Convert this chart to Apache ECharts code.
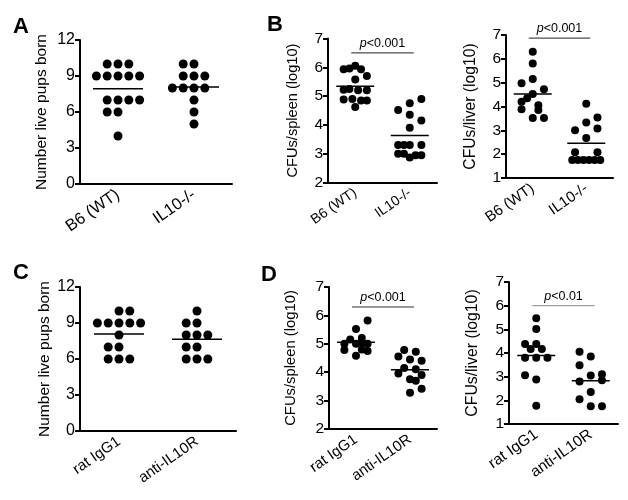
<!DOCTYPE html>
<html><head><meta charset="utf-8">
<script src="https://cdn.jsdelivr.net/npm/echarts@6/dist/echarts.min.js"></script>
<style>html,body{margin:0;padding:0;background:#fff}#c{width:628px;height:500px}</style>
</head><body><div id="c"></div>
<script>
// ---------- data ----------
const catsAB = ['B6 (WT)', 'IL10-/-'];
const catsCD = ['rat IgG1', 'anti-IL10R'];

// Panel A: number of live pups born
const aWT      = [10,10,10, 9,9,9,9,9, 7,7,7,7, 6,6, 4];
const aWTslot  = [-1,0,1, -2,-1,0,1,2, -1,0,1,2, -1,0, 0];
const aKO      = [10,10, 9,9,9, 8,8,8,8, 7, 6, 5];
const aKOslot  = [-1,0, -1,0,1, -2,-1,0,1, 0, 0, 0];

// Panel B: CFUs/spleen (log10)
const bsWT     = [5.93,5.96,6.05,5.93, 5.58,5.70, 5.22,5.25,5.20,5.20, 4.88,4.90,4.85,4.85, 4.62];
const bsWTslot = [-2,-1,0,1, 0,2, -2,-1,0.5,2, -2,-0.5,1,2, 0];
const bsKO     = [4.52,4.75,4.90, 4.35, 4.15, 3.90, 3.30,3.30,3.30,3.30, 3.00,3.00,2.87,2.95,2.95];
const bsKOslot = [-2,0,2, 0, 2, 0, -2,-1,0,2, -2,-1,0,1,2];
// Panel B: CFUs/liver (log10)
const blWT     = [6.30, 5.80, 5.15, 4.98, 4.72, 4.52, 4.20, 3.88, 3.85, 3.52, 3.52, 4.05, 4.35];
const blWTslot = [0, 0, 0, -2, 2, 0, -2, -2, 1, 0, 2, 1, -1];
const blKO     = [4.12, 3.54, 3.33, 3.00, 3.08, 2.68, 2.08, 2.08, 1.76,1.76,1.76,1.76,1.76,1.76];
const blKOslot = [0, 2, 0, -2, 2, 0, -2, 2, -2.5,-1.5,-0.5,0.5,1.5,2.5];

// Panel C: number of live pups born
const cRat     = [10,10, 9,9,9,9,9, 8, 7,7, 6,6,6];
const cRatSlot = [0,1, -2,-1,0,1,2, 0, -1,0, -1,0,1];
const cAnti    = [10, 9,9, 8,8,8, 7,7, 6,6,6];
const cAntiSlot= [0, -1,0, -1,0,1, -1,0, -1,0,1];

// Panel D: CFUs/spleen (log10)
const dsRat     = [5.82, 5.52, 5.15, 5.20, 5.00, 5.00, 5.05, 5.00, 4.78, 4.80, 4.75, 4.58];
const dsRatSlot = [2, 0, -1, 1, -2, 0, 1, 2, -2, 1, 2, 0];
const dsAnti    = [4.78, 4.72, 4.55, 4.45, 4.40, 4.15, 4.10, 3.95, 3.90, 3.75, 3.70, 3.42, 3.28];
const dsAntiSlot= [-1, 1, -2, 0, 2, -1, 1, -2, 2, 0, 1, 2, 0];
// Panel D: CFUs/liver (log10)
const dlRat     = [5.47, 5.01, 4.38, 4.38, 4.17, 4.17, 3.80, 3.80, 3.80, 3.06, 2.88, 1.77];
const dlRatSlot = [0, 0, -2, 0, -1, 1, -2, 0, 2, -2, 0, 0];
const dlAnti    = [4.05, 3.85, 3.48, 3.05, 3.10, 2.80, 2.85, 2.35, 2.05, 1.75, 1.75];
const dlAntiSlot= [-2, 0, -2, 0, 2, -2, 2, 0, -2, 0, 2];

const pTexts  = ['<0.001', '<0.001', '<0.001', '<0.01'];
const pLevels = [6.5, 6.87, 6.3, 6.0];

// ---------- layout / styles ----------
const FONT = 'Liberation Sans, Arial, sans-serif';
const panels = [
  {grid:{left:80, top:40, width:152, height:144}, cats:catsAB, min:0, max:12, step:3, tick:16, xl:16.5,
   name:'Number live pups born', nameSize:15.5, gap:30, groups:[[aWT,aWTslot],[aKO,aKOslot]], slotPx:10.8, dot:9, half:25},
  {grid:{left:328, top:38.5, width:109, height:144}, cats:catsAB, min:2, max:7, step:1, tick:15.5, xl:14,
   name:'CFUs/spleen (log10)', nameSize:14.6, gap:28, groups:[[bsWT,bsWTslot],[bsKO,bsKOslot]], slotPx:5.8, dot:8, half:19,
   p:0, pColor:'#222', pWidth:1},
  {grid:{left:506, top:35, width:107, height:143}, cats:catsAB, min:1, max:7, step:1, tick:15.5, xl:15,
   name:'CFUs/liver (log10)', nameSize:15.7, gap:27.5, groups:[[blWT,blWTslot],[blKO,blKOslot]], slotPx:5.6, dot:8, half:19,
   p:1, pColor:'#222', pWidth:1},
  {grid:{left:80, top:287, width:156, height:144}, cats:catsCD, min:0, max:12, step:3, tick:16, xl:15,
   name:'Number live pups born', nameSize:15.5, gap:27, groups:[[cRat,cRatSlot],[cAnti,cAntiSlot]], slotPx:10.8, dot:9, half:25},
  {grid:{left:329, top:287, width:108, height:142}, cats:catsCD, min:2, max:7, step:1, tick:15.5, xl:15,
   name:'CFUs/spleen (log10)', nameSize:14.8, gap:31, groups:[[dsRat,dsRatSlot],[dsAnti,dsAntiSlot]], slotPx:5.8, dot:8, half:19,
   p:2, pColor:'#999', pWidth:2},
  {grid:{left:509, top:282, width:109, height:142}, cats:catsCD, min:1, max:7, step:1, tick:15.5, xl:15.5,
   name:'CFUs/liver (log10)', nameSize:15.8, gap:28.5, groups:[[dlRat,dlRatSlot],[dlAnti,dlAntiSlot]], slotPx:5.6, dot:8, half:19,
   p:3, pColor:'#888', pWidth:1},
];

const grid = [], xAxis = [], yAxis = [], series = [];
const mean = a => a.reduce((s, v) => s + v, 0) / a.length;

panels.forEach((P, i) => {
  grid.push(Object.assign({containLabel:false}, P.grid));
  xAxis.push({type:'category', gridIndex:i, data:P.cats, boundaryGap:true,
    axisLine:{lineStyle:{color:'#000', width:2}},
    axisTick:{alignWithLabel:true, length:5, lineStyle:{color:'#000', width:2}},
    axisLabel:{rotate:35, margin:9, color:'#000', fontSize:P.xl, fontFamily:FONT}});
  yAxis.push({type:'value', gridIndex:i, min:P.min, max:P.max, interval:P.step,
    name:P.name, nameLocation:'middle', nameRotate:90, nameGap:P.gap,
    nameTextStyle:{color:'#000', fontSize:P.nameSize, fontFamily:FONT},
    splitLine:{show:false},
    axisLine:{show:true, lineStyle:{color:'#000', width:2}},
    axisTick:{show:true, length:5, lineStyle:{color:'#000', width:2}},
    axisLabel:{margin:5, color:'#000', fontSize:P.tick, fontFamily:FONT}});
  // dots
  const data = [];
  P.groups.forEach((g, gi) => {
    g[0].forEach((v, k) => data.push({value:[gi, v], symbolOffset:[g[1][k] * P.slotPx, 0]}));
  });
  series.push({type:'scatter', xAxisIndex:i, yAxisIndex:i, data, symbol:'circle',
    symbolSize:P.dot, itemStyle:{color:'#000', opacity:1}, silent:true, z:3});
  // mean lines
  series.push({type:'custom', xAxisIndex:i, yAxisIndex:i, z:4,
    data:P.groups.map((g, gi) => [gi, mean(g[0])]),
    renderItem:(params, api) => {
      const c = api.coord([api.value(0), api.value(1)]);
      return {type:'line', shape:{x1:c[0]-P.half, y1:c[1], x2:c[0]+P.half, y2:c[1]},
        style:{stroke:'#000', lineWidth:1.5}};
    }});
  // p-value bar
  if (P.p !== undefined) {
    series.push({type:'custom', xAxisIndex:i, yAxisIndex:i, z:4,
      data:[[0, 1, pLevels[P.p]]],
      renderItem:(params, api) => {
        const a = api.coord([0, api.value(2)]), b = api.coord([1, api.value(2)]);
        return {type:'group', children:[
          {type:'line', shape:{x1:a[0]-4, y1:a[1], x2:b[0]+4, y2:b[1]},
            style:{stroke:P.pColor, lineWidth:P.pWidth}},
          {type:'text', x:(a[0]+b[0])/2, y:a[1]-3,
            style:{text:'{i|p}' + pTexts[P.p], align:'center', verticalAlign:'bottom',
              fill:'#000', fontSize:12.5, fontFamily:FONT,
              rich:{i:{fontStyle:'italic', fontSize:12.5, fontFamily:FONT}}}}
        ]};
      }});
  }
});

const title = [['A',8,11],['B',262,9],['C',8,257],['D',256,259]].map(t => ({
  text:t[0], left:t[1], top:t[2],
  textStyle:{fontSize:22, fontWeight:'bold', color:'#000', fontFamily:FONT}}));

const chart = echarts.init(document.getElementById('c'), null, {renderer:'canvas'});
chart.setOption({animation:false, backgroundColor:'#fff', title, grid, xAxis, yAxis, series});
</script>
</body></html>
